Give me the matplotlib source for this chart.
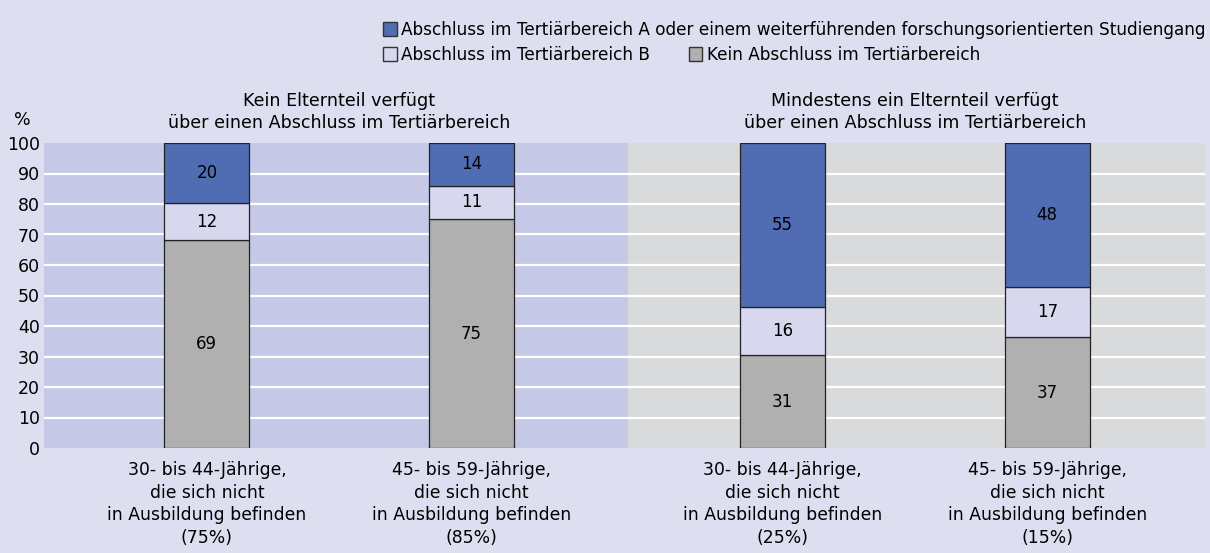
import matplotlib
matplotlib.use('Agg')
import matplotlib.pyplot as plt
import numpy as np
from matplotlib.patches import Patch

# data
categories = [
    "30- bis 44-Jährige,\ndie sich nicht\nin Ausbildung befinden\n(75%)",
    "45- bis 59-Jährige,\ndie sich nicht\nin Ausbildung befinden\n(85%)",
    "30- bis 44-Jährige,\ndie sich nicht\nin Ausbildung befinden\n(25%)",
    "45- bis 59-Jährige,\ndie sich nicht\nin Ausbildung befinden\n(15%)",
]
kein_abschluss = [69, 75, 31, 37]
tertiaer_b = [12, 11, 16, 17]
tertiaer_a = [20, 14, 55, 48]
series_names = [
    "Abschluss im Tertiärbereich A oder einem weiterführenden forschungsorientierten Studiengang",
    "Abschluss im Tertiärbereich B",
    "Kein Abschluss im Tertiärbereich",
]
group_titles = [
    "Kein Elternteil verfügt\nüber einen Abschluss im Tertiärbereich",
    "Mindestens ein Elternteil verfügt\nüber einen Abschluss im Tertiärbereich",
]

BG = '#dddef0'
LEFT_BG = '#c5c8e6'
RIGHT_BG = '#d9dadc'
C_A = '#506db3'
C_B = '#d7d8ee'
C_K = '#b0b0b0'

fig = plt.figure(figsize=(12.1, 5.53), dpi=100, facecolor=BG)
ax = fig.add_axes([44 / 1210, 105 / 553, (1205 - 44) / 1210, (448 - 143) / 553])
ax.set_facecolor(BG)

x = np.array([0, 1, 2.174, 3.174])
xmin, xmax = -0.615, 3.77
split = 1.589
ax.set_xlim(xmin, xmax)
ax.set_ylim(0, 100)

# shaded halves
ax.axvspan(xmin, split, color=LEFT_BG, zorder=0, lw=0)
ax.axvspan(split, xmax, color=RIGHT_BG, zorder=0, lw=0)
for y in range(10, 100, 10):
    ax.axhline(y, color='white', lw=1.6, zorder=1)

# normalise each stack to 100 %
k = np.array(kein_abschluss, float)
b = np.array(tertiaer_b, float)
a = np.array(tertiaer_a, float)
tot = k + b + a
kn, bn, an = k / tot * 100, b / tot * 100, a / tot * 100

w = 0.32
ax.bar(x, kn, w, color=C_K, edgecolor='#222222', lw=0.9, zorder=3)
ax.bar(x, bn, w, bottom=kn, color=C_B, edgecolor='#222222', lw=0.9, zorder=3)
ax.bar(x, an, w, bottom=kn + bn, color=C_A, edgecolor='#222222', lw=0.9, zorder=3)

fs = 12
for i in range(len(x)):
    ax.text(x[i], kn[i] / 2, str(kein_abschluss[i]), ha='center', va='center', fontsize=fs, zorder=4)
    ax.text(x[i], kn[i] + bn[i] / 2, str(tertiaer_b[i]), ha='center', va='center', fontsize=fs, zorder=4)
    ax.text(x[i], kn[i] + bn[i] + an[i] / 2, str(tertiaer_a[i]), ha='center', va='center', fontsize=fs, zorder=4)

ax.set_yticks(range(0, 101, 10))
ax.tick_params(axis='y', length=0, labelsize=12.5, pad=3)
ax.set_xticks(x)
ax.set_xticklabels(categories, fontsize=12.4, linespacing=1.33)
ax.tick_params(axis='x', length=0, pad=9.5)
for s in ax.spines.values():
    s.set_visible(False)

fig.text(22 / 1210, 1 - 120 / 553, '%', fontsize=12.5, ha='center', va='center')

# group titles
ax.text((x[0] + x[1]) / 2, 103.5, group_titles[0], ha='center', va='bottom', fontsize=12.6, linespacing=1.3)
ax.text((x[2] + x[3]) / 2, 103.5, group_titles[1], ha='center', va='bottom', fontsize=12.6, linespacing=1.3)

# legend
h1 = [Patch(facecolor=C_A, edgecolor='#333333', label=series_names[0])]
h2 = [Patch(facecolor=C_B, edgecolor='#333333', label=series_names[1]),
      Patch(facecolor=C_K, edgecolor='#333333', label=series_names[2])]
leg_kw = dict(frameon=False, handlelength=0.8, handleheight=0.95, handletextpad=0.25,
              prop={'size': 12.2}, borderaxespad=0, borderpad=0)
fig.legend(handles=h1, loc='center left', bbox_to_anchor=(383 / 1210, 1 - 30 / 553), **leg_kw)
fig.legend(handles=h2, loc='center left', bbox_to_anchor=(383 / 1210, 1 - 55 / 553), ncol=2,
           columnspacing=2.3, **leg_kw)

fig.savefig('out.png', dpi=100, facecolor=BG)
